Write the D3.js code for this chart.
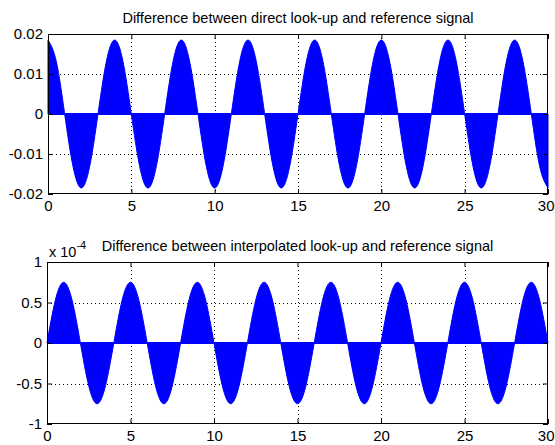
<!DOCTYPE html>
<html><head><meta charset="utf-8">
<script src="https://cdn.jsdelivr.net/npm/d3@7"></script>
<style>
html,body{margin:0;padding:0;background:#fff;overflow:hidden;}
svg{display:block;}
text{font-family:"Liberation Sans",Arial,Helvetica,sans-serif;fill:#000;}
</style></head>
<body>
<div id="chart"></div>
<script>
// x samples (step 0.5 from 0 to 30)
const xSamples = [0,0.5,1,1.5,2,2.5,3,3.5,4,4.5,5,5.5,6,6.5,7,7.5,8,8.5,9,9.5,10,10.5,11,11.5,12,12.5,13,13.5,14,14.5,15,15.5,16,16.5,17,17.5,18,18.5,19,19.5,20,20.5,21,21.5,22,22.5,23,23.5,24,24.5,25,25.5,26,26.5,27,27.5,28,28.5,29,29.5,30];
// envelope of the direct look-up error
const directError = [
 0.0185,0.0131,0,-0.0131,-0.0185,-0.0131,0,0.0131,
 0.0185,0.0131,0,-0.0131,-0.0185,-0.0131,0,0.0131,
 0.0185,0.0131,0,-0.0131,-0.0185,-0.0131,0,0.0131,
 0.0185,0.0131,0,-0.0131,-0.0185,-0.0131,0,0.0131,
 0.0185,0.0131,0,-0.0131,-0.0185,-0.0131,0,0.0131,
 0.0185,0.0131,0,-0.0131,-0.0185,-0.0131,0,0.0131,
 0.0185,0.0131,0,-0.0131,-0.0185,-0.0131,0,0.0131,
 0.0185,0.0131,0,-0.0131,-0.0185];
// envelope of the interpolated look-up error, in units of 1e-4
const interpError = [
 0,0.53,0.75,0.53,0,-0.53,-0.75,-0.53,
 0,0.53,0.75,0.53,0,-0.53,-0.75,-0.53,
 0,0.53,0.75,0.53,0,-0.53,-0.75,-0.53,
 0,0.53,0.75,0.53,0,-0.53,-0.75,-0.53,
 0,0.53,0.75,0.53,0,-0.53,-0.75,-0.53,
 0,0.53,0.75,0.53,0,-0.53,-0.75,-0.53,
 0,0.53,0.75,0.53,0,-0.53,-0.75,-0.53,
 0,0.53,0.75,0.53,0];
const xTicks = [0,5,10,15,20,25,30];
const topYTicks = [-0.02,-0.01,0,0.01,0.02];
const topYLabels = ["-0.02","-0.01","0","0.01","0.02"];
const botYTicks = [-1,-0.5,0,0.5,1];
const botYLabels = ["-1","-0.5","0","0.5","1"];
const titles = ["Difference between direct look-up and reference signal",
                "Difference between interpolated look-up and reference signal"];

const W = 555, H = 445;
const svg = d3.select("#chart").append("svg").attr("width", W).attr("height", H);

function subplot(box, values, yDomain, yTicks, yLabels, title, exponent) {
  const x = d3.scaleLinear().domain([0,30]).range([box.l, box.r]);
  const y = d3.scaleLinear().domain(yDomain).range([box.b, box.t]);
  const g = svg.append("g");
  const data = xSamples.map((d,i)=>({x:d, v:values[i]}));

  // grid
  const grid = g.append("g").attr("stroke","#000").attr("stroke-width",1).attr("stroke-dasharray","1,3");
  xTicks.filter(t=>t>0 && t<30).forEach(t=>{
    grid.append("line").attr("x1",Math.round(x(t))+0.5).attr("x2",Math.round(x(t))+0.5)
      .attr("y1",box.t).attr("y2",box.b);
  });
  yTicks.filter(t=>t>yDomain[0] && t<yDomain[1]).forEach(t=>{
    grid.append("line").attr("y1",Math.round(y(t))+0.5).attr("y2",Math.round(y(t))+0.5)
      .attr("x1",box.l).attr("x2",box.r);
  });

  // filled signal
  const area = d3.area().x(d=>x(d.x)).y0(y(0)).y1(d=>y(d.v)).curve(d3.curveNatural);
  g.append("path").datum(data).attr("d",area).attr("fill","#0000ff").attr("stroke","#0000ff").attr("stroke-width",1);
  g.append("line").attr("x1",box.l).attr("x2",box.r).attr("y1",y(0)).attr("y2",y(0))
    .attr("stroke","#0000ff").attr("stroke-width",2);

  // axes with inward ticks on all sides
  const tl = 5;
  const ax = g.append("g");
  const bx = ax.append("g").attr("transform",`translate(0,${box.b})`)
    .call(d3.axisBottom(x).tickValues(xTicks).tickSizeInner(-tl).tickSizeOuter(0).tickPadding(6).tickFormat(d3.format("d")));
  // keep the last label inside the window
  bx.selectAll(".tick text").filter(d=>d===30).attr("text-anchor","end").attr("x",6);
  ax.append("g").attr("transform",`translate(0,${box.t})`)
    .call(d3.axisTop(x).tickValues(xTicks).tickSizeInner(-tl).tickSizeOuter(0).tickFormat(""));
  ax.append("g").attr("transform",`translate(${box.l},0)`)
    .call(d3.axisLeft(y).tickValues(yTicks).tickSizeInner(-tl).tickSizeOuter(0).tickPadding(5).tickFormat((d,i)=>yLabels[i]));
  ax.append("g").attr("transform",`translate(${box.r},0)`)
    .call(d3.axisRight(y).tickValues(yTicks).tickSizeInner(-tl).tickSizeOuter(0).tickFormat(""));
  ax.selectAll(".domain").remove();
  ax.selectAll("line").attr("stroke","#000");
  ax.selectAll("text").attr("font-size","15px").attr("font-family","Liberation Sans, Arial, sans-serif").attr("fill","#000");
  g.append("rect").attr("x",box.l+0.5).attr("y",box.t+0.5).attr("width",box.r-box.l-1).attr("height",box.b-box.t-1)
    .attr("fill","none").attr("stroke","#000").attr("stroke-width",1);

  g.append("text").attr("x",(box.l+box.r)/2).attr("y",box.t-11).attr("text-anchor","middle")
    .attr("font-size","14.5px").text(title);

  if (exponent) {
    const t = g.append("text").attr("x",box.l+2).attr("y",box.t-5).attr("font-size","14.5px");
    t.append("tspan").text("x 10");
    t.append("tspan").attr("dy",-8).attr("font-size","11px").text(exponent);
  }
}

subplot({l:48,r:548,t:34,b:194}, directError, [-0.02,0.02], topYTicks, topYLabels, titles[0], null);
subplot({l:47,r:548,t:262,b:424}, interpError, [-1,1], botYTicks, botYLabels, titles[1], "-4");
</script>
</body></html>
